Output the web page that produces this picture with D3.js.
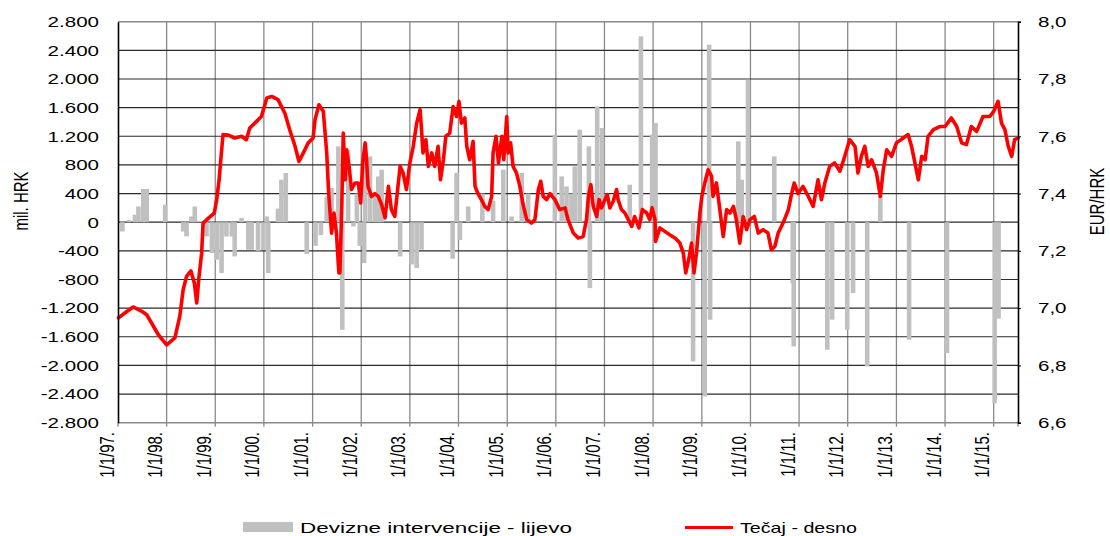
<!DOCTYPE html>
<html>
<head>
<meta charset="utf-8">
<script src="https://cdn.jsdelivr.net/npm/d3@7"></script>
<style>
  body { margin: 0; background: #fff; }
  svg text { font-family: "Liberation Sans", Arial, sans-serif; fill: #000; }
</style>
</head>
<body>
<svg id="chart" width="1110" height="536"></svg>
<script>
// ---------------- DATA ----------------
const leftTicks = [-2800,-2400,-2000,-1600,-1200,-800,-400,0,400,800,1200,1600,2000,2400,2800];
const rightTicks = [6.6,6.8,7.0,7.2,7.4,7.6,7.8,8.0];
const yearTicks = [1997,1998,1999,2000,2001,2002,2003,2004,2005,2006,2007,2008,2009,2010,2011,2012,2013,2014,2015];
const xDomainYears = [1997.0, 2015.5];
const axisTitles = ["mil. HRK", "EUR/HRK"];
const legendLabels = ["Devizne intervencije - lijevo", "Tečaj - desno"];

// FX interventions (mil. HRK), [decimal year, value]
const interventions = [
  [1997.09,-130],[1997.23,30],[1997.35,105],[1997.42,220],[1997.52,464],[1997.59,464],[1997.97,244],
  [1998.34,-130],[1998.41,-198],[1998.51,80],[1998.58,220],[1998.68,20],[1998.82,-200],[1998.93,-430],
  [1999.03,-524],[1999.13,-710],[1999.23,-200],[1999.34,-200],[1999.40,-478],[1999.54,58],[1999.68,-384],
  [1999.75,-384],[1999.88,-400],[1999.99,-390],[2000.06,80],[2000.09,-710],[2000.29,190],[2000.36,594],
  [2000.45,687],[2000.88,-446],[2001.06,-330],[2001.17,-180],[2001.29,360],[2001.39,478],[2001.53,1059],
  [2001.61,-1502],[2001.73,1010],[2001.84,-60],[2001.91,400],[2001.97,-330],[2002.06,-570],[2002.08,1100],
  [2002.18,919],[2002.28,400],[2002.35,640],[2002.42,733],[2002.80,-478],[2003.04,-590],[2003.14,-640],
  [2003.24,-384],[2003.88,-510],[2003.96,687],[2004.03,-250],[2004.20,220],[2004.49,400],[2004.71,300],
  [2004.92,733],[2005.09,80],[2005.30,687],[2005.43,400],[2005.98,1222],[2006.12,640],[2006.22,500],
  [2006.32,400],[2006.39,780],[2006.49,1292],[2006.68,1059],[2006.70,-920],[2006.85,1617],[2006.95,1315],
  [2007.52,524],[2007.75,2596],[2007.98,1222],[2008.05,1385],[2008.82,-1944],[2009.06,-2433],[2009.15,2479],
  [2009.17,-1362],[2009.75,1129],[2009.82,594],[2009.95,1990],[2010.49,919],[2010.87,-850],[2010.89,-1735],
  [2011.58,-1781],[2011.68,-1362],[2011.99,-1502],[2012.11,-989],[2012.40,-2014],[2012.67,360],
  [2013.26,-1641],[2014.04,-1827],[2015.02,-2526],[2015.10,-1347]
];

// EUR/HRK exchange rate, [decimal year, value]
const rate = [
  [1997.01,6.966],[1997.14,6.983],[1997.31,7.004],[1997.49,6.989],[1997.59,6.977],[1997.69,6.948],[1997.83,6.907],
  [1998.00,6.872],[1998.17,6.896],[1998.27,6.971],[1998.34,7.064],[1998.41,7.111],[1998.50,7.130],[1998.57,7.088],
  [1998.62,7.018],[1998.66,7.100],[1998.72,7.192],[1998.75,7.297],[1998.86,7.314],[1998.98,7.332],[1999.03,7.379],
  [1999.08,7.448],[1999.12,7.530],[1999.16,7.606],[1999.27,7.604],[1999.40,7.594],[1999.54,7.600],[1999.64,7.588],
  [1999.71,7.629],[1999.85,7.652],[1999.95,7.669],[2000.06,7.734],[2000.16,7.739],[2000.29,7.728],[2000.43,7.681],
  [2000.53,7.623],[2000.64,7.565],[2000.72,7.512],[2000.81,7.542],[2000.91,7.577],[2001.01,7.594],[2001.05,7.658],
  [2001.13,7.710],[2001.22,7.687],[2001.29,7.542],[2001.33,7.402],[2001.39,7.262],[2001.44,7.332],[2001.49,7.262],
  [2001.54,7.123],[2001.56,7.123],[2001.60,7.355],[2001.63,7.611],[2001.67,7.448],[2001.70,7.553],[2001.75,7.495],
  [2001.80,7.414],[2001.87,7.437],[2001.94,7.437],[2001.99,7.367],[2002.03,7.507],[2002.08,7.577],[2002.11,7.518],
  [2002.14,7.425],[2002.21,7.390],[2002.28,7.400],[2002.35,7.390],[2002.42,7.361],[2002.49,7.315],[2002.56,7.425],
  [2002.62,7.344],[2002.69,7.320],[2002.74,7.400],[2002.80,7.495],[2002.86,7.472],[2002.93,7.414],[2003.00,7.507],
  [2003.07,7.565],[2003.14,7.646],[2003.21,7.693],[2003.24,7.623],[2003.27,7.542],[2003.33,7.588],[2003.38,7.495],
  [2003.45,7.542],[2003.51,7.495],[2003.58,7.565],[2003.63,7.448],[2003.69,7.518],[2003.74,7.600],[2003.82,7.611],
  [2003.89,7.704],[2003.96,7.669],[2004.01,7.722],[2004.06,7.646],[2004.13,7.664],[2004.17,7.565],[2004.23,7.518],
  [2004.30,7.582],[2004.34,7.425],[2004.40,7.400],[2004.47,7.379],[2004.54,7.355],[2004.61,7.344],[2004.68,7.390],
  [2004.71,7.542],[2004.77,7.600],[2004.82,7.507],[2004.89,7.600],[2004.93,7.518],[2004.99,7.669],[2005.02,7.542],
  [2005.07,7.577],[2005.12,7.495],[2005.19,7.472],[2005.26,7.425],[2005.32,7.367],[2005.40,7.309],[2005.50,7.297],
  [2005.57,7.309],[2005.64,7.414],[2005.69,7.443],[2005.74,7.390],[2005.81,7.379],[2005.88,7.400],[2005.98,7.379],
  [2006.08,7.344],[2006.19,7.350],[2006.25,7.309],[2006.36,7.262],[2006.46,7.245],[2006.56,7.250],[2006.63,7.309],
  [2006.67,7.390],[2006.72,7.431],[2006.77,7.355],[2006.84,7.320],[2006.89,7.379],[2006.94,7.350],[2007.01,7.379],
  [2007.06,7.396],[2007.11,7.350],[2007.18,7.373],[2007.25,7.414],[2007.28,7.379],[2007.35,7.344],[2007.42,7.332],
  [2007.49,7.309],[2007.56,7.285],[2007.62,7.320],[2007.71,7.280],[2007.78,7.344],[2007.87,7.332],[2007.93,7.309],
  [2007.98,7.350],[2008.04,7.309],[2008.05,7.233],[2008.14,7.280],[2008.24,7.268],[2008.34,7.256],[2008.45,7.245],
  [2008.55,7.227],[2008.62,7.192],[2008.67,7.123],[2008.73,7.169],[2008.79,7.227],[2008.84,7.123],[2008.89,7.192],
  [2008.96,7.332],[2009.00,7.390],[2009.06,7.437],[2009.13,7.483],[2009.20,7.460],[2009.23,7.390],[2009.30,7.437],
  [2009.37,7.344],[2009.44,7.250],[2009.51,7.344],[2009.58,7.332],[2009.65,7.355],[2009.71,7.309],[2009.78,7.227],
  [2009.85,7.320],[2009.92,7.274],[2009.99,7.309],[2010.08,7.320],[2010.16,7.262],[2010.26,7.274],[2010.36,7.262],
  [2010.43,7.204],[2010.50,7.215],[2010.57,7.262],[2010.67,7.297],[2010.78,7.344],[2010.85,7.402],[2010.90,7.437],
  [2010.98,7.400],[2011.08,7.425],[2011.19,7.390],[2011.29,7.355],[2011.39,7.448],[2011.46,7.379],[2011.53,7.437],
  [2011.63,7.495],[2011.73,7.507],[2011.84,7.478],[2011.94,7.530],[2012.04,7.588],[2012.15,7.565],[2012.21,7.472],
  [2012.28,7.530],[2012.35,7.565],[2012.42,7.495],[2012.49,7.518],[2012.59,7.472],[2012.67,7.390],[2012.73,7.483],
  [2012.80,7.553],[2012.90,7.530],[2013.00,7.577],[2013.14,7.594],[2013.24,7.606],[2013.31,7.565],[2013.38,7.507],
  [2013.45,7.448],[2013.52,7.530],[2013.59,7.518],[2013.65,7.600],[2013.76,7.623],[2013.89,7.634],[2014.00,7.634],
  [2014.13,7.664],[2014.24,7.634],[2014.34,7.577],[2014.44,7.571],[2014.54,7.634],[2014.65,7.617],[2014.78,7.669],
  [2014.92,7.669],[2015.00,7.687],[2015.09,7.722],[2015.16,7.646],[2015.23,7.623],[2015.30,7.565],[2015.37,7.530],
  [2015.43,7.588],[2015.50,7.594]
];

// ---------------- HELPERS ----------------
function yd(t) {
  const y = Math.floor(t);
  const start = new Date(y, 0, 1).getTime();
  const end = new Date(y + 1, 0, 1).getTime();
  return new Date(start + (t - y) * (end - start));
}
const loc = d3.formatLocale({decimal: ",", thousands: ".", grouping: [3], currency: ["", ""], minus: "-"});
const fmtLeft = loc.format(",");
const fmtRight = loc.format(".1f");

// ---------------- LAYOUT ----------------
const X0 = 118, X1 = 1018, Y0 = 21.7, Y1 = 422.7;
const SX = 1.37; // horizontal stretch of text in reference

const svg = d3.select("#chart");
const x = d3.scaleTime().domain(xDomainYears.map(yd)).range([X0, X1]);
const yL = d3.scaleLinear().domain([-2800, 2800]).range([Y1, Y0]);
const yR = d3.scaleLinear().domain([6.6, 8.0]).range([Y1, Y0]);

// vertical gridlines
svg.append("g").selectAll("line").data(yearTicks.slice(1)).join("line")
  .attr("x1", d => x(yd(d))).attr("x2", d => x(yd(d)))
  .attr("y1", Y0).attr("y2", Y1)
  .attr("stroke", "#8a8a8a").attr("stroke-width", 1.3);

// horizontal gridlines
svg.append("g").selectAll("line").data(leftTicks).join("line")
  .attr("x1", X0).attr("x2", X1)
  .attr("y1", d => yL(d)).attr("y2", d => yL(d))
  .attr("stroke", d => (d === 2800 || d === -2800) ? "#8a8a8a" : "#2a2a2a")
  .attr("stroke-width", d => (d === 2800 || d === -2800) ? 1.5 : 1.2);

// bars
const BW = 4.6;
svg.append("g").selectAll("rect").data(interventions).join("rect")
  .attr("x", d => x(yd(d[0])) - BW / 2)
  .attr("width", BW)
  .attr("y", d => yL(Math.max(0, d[1])))
  .attr("height", d => Math.abs(yL(d[1]) - yL(0)))
  .attr("fill", "#c0c0c0");

// rate line
svg.append("path").datum(rate)
  .attr("d", d3.line().x(d => x(yd(d[0]))).y(d => yR(d[1])))
  .attr("fill", "none").attr("stroke", "#ff0000").attr("stroke-width", 3.6)
  .attr("stroke-linejoin", "round").attr("stroke-linecap", "round");

// bottom axis ticks
svg.append("g").selectAll("line").data(yearTicks).join("line")
  .attr("x1", d => x(yd(d))).attr("x2", d => x(yd(d)))
  .attr("y1", Y1).attr("y2", Y1 + 4)
  .attr("stroke", "#8a8a8a").attr("stroke-width", 1.3);
svg.append("line").attr("x1", X1).attr("x2", X1).attr("y1", Y1).attr("y2", Y1 + 4)
  .attr("stroke", "#8a8a8a").attr("stroke-width", 1.3);

// left axis
const gL = svg.append("g").attr("transform", `translate(${X0},0)`)
  .call(d3.axisLeft(yL).tickValues(leftTicks).tickSize(0).tickFormat(fmtLeft));
gL.select(".domain").attr("stroke", "#000").attr("stroke-width", 1.6);
gL.selectAll("text").attr("x", -19 / SX).attr("transform", `scale(${SX},1)`)
  .attr("font-size", 15).attr("font-family", "Liberation Sans, Arial, sans-serif");

// right axis
const gR = svg.append("g").attr("transform", `translate(${X1},0)`)
  .call(d3.axisRight(yR).tickValues(rightTicks).tickSize(3).tickFormat(fmtRight));
gR.select(".domain").attr("stroke", "#000").attr("stroke-width", 1.6);
gR.selectAll(".tick line").attr("stroke", "#000");
gR.selectAll("text").attr("x", 20 / SX).attr("transform", `scale(${SX},1)`)
  .attr("font-size", 15).attr("font-family", "Liberation Sans, Arial, sans-serif");

// x labels (rotated)
svg.append("g").selectAll("text").data(yearTicks).join("text")
  .attr("transform", d => `translate(${x(yd(d)) - 4.5},432) scale(${SX},1) rotate(-90)`)
  .attr("text-anchor", "end")
  .attr("font-size", 15)
  .text(d => `1/1/${String(d).slice(2)}.`);

// axis titles
svg.append("text")
  .attr("transform", `translate(28,201) scale(${SX},1) rotate(-90)`)
  .attr("text-anchor", "middle").attr("font-size", 15).text(axisTitles[0]);
svg.append("text")
  .attr("transform", `translate(1104,201.5) scale(${SX},1) rotate(-90)`)
  .attr("text-anchor", "middle").attr("font-size", 15).text(axisTitles[1]);

// legend
const lg = svg.append("g");
lg.append("rect").attr("x", 243).attr("y", 522).attr("width", 50).attr("height", 10).attr("fill", "#c0c0c0");
lg.append("text").attr("x", 300).attr("y", 533).attr("font-size", 15)
  .attr("textLength", 272).attr("lengthAdjust", "spacingAndGlyphs").text(legendLabels[0]);
lg.append("line").attr("x1", 685).attr("x2", 733).attr("y1", 527.5).attr("y2", 527.5)
  .attr("stroke", "#ff0000").attr("stroke-width", 3);
lg.append("text").attr("x", 740).attr("y", 533).attr("font-size", 15)
  .attr("textLength", 117).attr("lengthAdjust", "spacingAndGlyphs").text(legendLabels[1]);
</script>
</body>
</html>
